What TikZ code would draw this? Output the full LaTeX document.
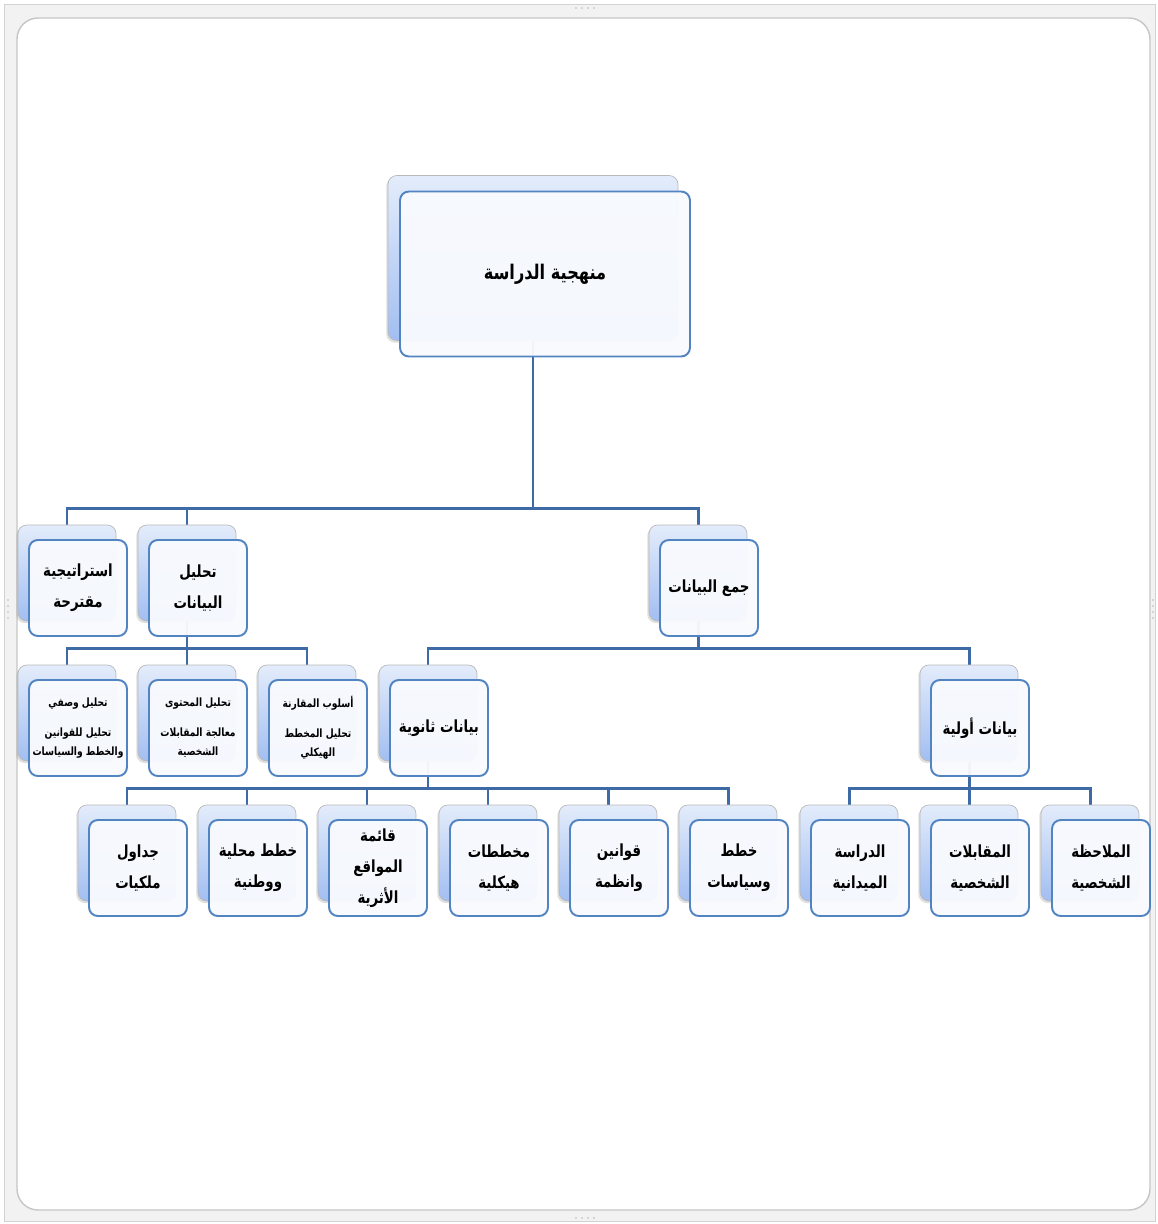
\documentclass[tikz,border=0pt]{standalone}
\usepackage{fontspec}
\newfontfamily\arabicfont[Script=Arabic, FakeStretch=0.8]{DejaVu Sans}
\TeXXeTstate=1
\usetikzlibrary{backgrounds,shadows}
\definecolor{boxblue}{HTML}{5284C2}
\definecolor{linkblue}{HTML}{3E6BA6}
\definecolor{backtop}{HTML}{E3ECFB}
\definecolor{backbottom}{HTML}{A2BEF1}
\definecolor{frontfill}{HTML}{F8FAFE}
\newcommand{\ar}[1]{\beginR#1\endR}

\begin{document}
\begin{tikzpicture}[x = 0.02cm, y = -0.02cm,
    front/.style = {draw = boxblue, line width = 1.1pt, fill = frontfill, fill opacity = 0.96, text opacity = 1, rounded corners = 5pt, minimum width = 1.96cm, minimum height = 1.92cm, inner sep = 1pt, align = center, font = \arabicfont\bfseries\fontsize{9.5}{17.5}\selectfont},
    back/.style = {draw = gray!55, top color = backtop, bottom color = backbottom, rounded corners = 5pt, minimum width = 1.96cm, minimum height = 1.92cm, drop shadow = {opacity = 0.25, shadow xshift = -1pt, shadow yshift = -1.2pt}},
    small/.style = {font = \arabicfont\bfseries\fontsize{6.5}{11}\selectfont},
    link/.style = {draw = linkblue, line width = 1.7pt}]
  \useasboundingbox (0, 0) rectangle (1158, 1224);

  % root
  \node[back, minimum width = 5.8cm, minimum height = 3.3cm] (broot) at (533, 258) {};
  \node[front, minimum width = 5.8cm, minimum height = 3.3cm, font = \arabicfont\bfseries\fontsize{11.5}{14}\selectfont] (root) at (545, 274) {\ar{منهجية الدراسة}};

  % boxes
  \foreach \n/\x/\y/\t in {strat/78/588/{\ar{استراتيجية}\\\ar{مقترحة}},
      tahlil/198/588/{\ar{تحليل}\\\ar{البيانات}},
      jam/709/588/{\ar{جمع البيانات}},
      thanawiya/439/728/{\ar{بيانات ثانوية}},
      awwaliya/980/728/{\ar{بيانات أولية}},
      jadawil/138/868/{\ar{جداول}\\\ar{ملكيات}},
      mahalliya/258/868/{\ar{خطط محلية}\\\ar{ووطنية}},
      athariya/378/868/{\ar{قائمة}\\\ar{المواقع}\\\ar{الأثرية}},
      haykaliya/499/868/{\ar{مخططات}\\\ar{هيكلية}},
      qawanin/619/868/{\ar{قوانين}\\\ar{وانظمة}},
      siyasat/739/868/{\ar{خطط}\\\ar{وسياسات}},
      maydaniya/860/868/{\ar{الدراسة}\\\ar{الميدانية}},
      muqabalat/980/868/{\ar{المقابلات}\\\ar{الشخصية}},
      mulahaza/1101/868/{\ar{الملاحظة}\\\ar{الشخصية}}} {
    \node[back] (b\n) at (\x - 11, \y - 15) {};
    \node[front] (\n) at (\x, \y) {\t};
  }
  \foreach \n/\x/\t in {wasfi/78/{\ar{تحليل وصفي}\\[6pt]\ar{تحليل للقوانين}\\\ar{والخطط والسياسات}},
      muhtawa/198/{\ar{تحليل المحتوى}\\[6pt]\ar{معالجة المقابلات}\\\ar{الشخصية}},
      muqarana/318/{\ar{أسلوب المقارنة}\\[6pt]\ar{تحليل المخطط}\\\ar{الهيكلي}}} {
    \node[back] (b\n) at (\x - 11, 713) {};
    \node[front, small] (\n) at (\x, 728) {\t};
  }

  \coordinate (bus1) at (0, 508);
  \coordinate (bus2) at (0, 648);
  \coordinate (bus3) at (0, 788);

  % frame
  \begin{scope}[on background layer]
    \draw[fill = gray!10, draw = gray!35] (4, 4) rectangle (1155, 1221);
    \draw[fill = white, draw = gray!45, line width = 0.8pt, rounded corners = 12pt] (17, 18) rectangle (1150, 1210);
    \foreach \i in {0, 1, 2, 3} {
      \fill[gray!55] (576 + \i * 6, 8) circle (0.5pt);
      \fill[gray!55] (576 + \i * 6, 1218) circle (0.5pt);
      \fill[gray!55] (8, 600 + \i * 6) circle (0.5pt);
      \fill[gray!55] (1153, 600 + \i * 6) circle (0.5pt);
    }
  \end{scope}

  % connectors
  \begin{scope}[on background layer]
    \foreach \c in {strat, tahlil, jam} \draw[link] (broot) -- (broot |- bus1) -| (b\c);
    \foreach \c in {wasfi, muhtawa, muqarana} \draw[link] (btahlil) -- (btahlil |- bus2) -| (b\c);
    \foreach \c in {thanawiya, awwaliya} \draw[link] (bjam) -- (bjam |- bus2) -| (b\c);
    \foreach \c in {jadawil, mahalliya, athariya, haykaliya, qawanin, siyasat} \draw[link] (bthanawiya) -- (bthanawiya |- bus3) -| (b\c);
    \foreach \c in {maydaniya, muqabalat, mulahaza} \draw[link] (bawwaliya) -- (bawwaliya |- bus3) -| (b\c);
  \end{scope}
\end{tikzpicture}
\end{document}
